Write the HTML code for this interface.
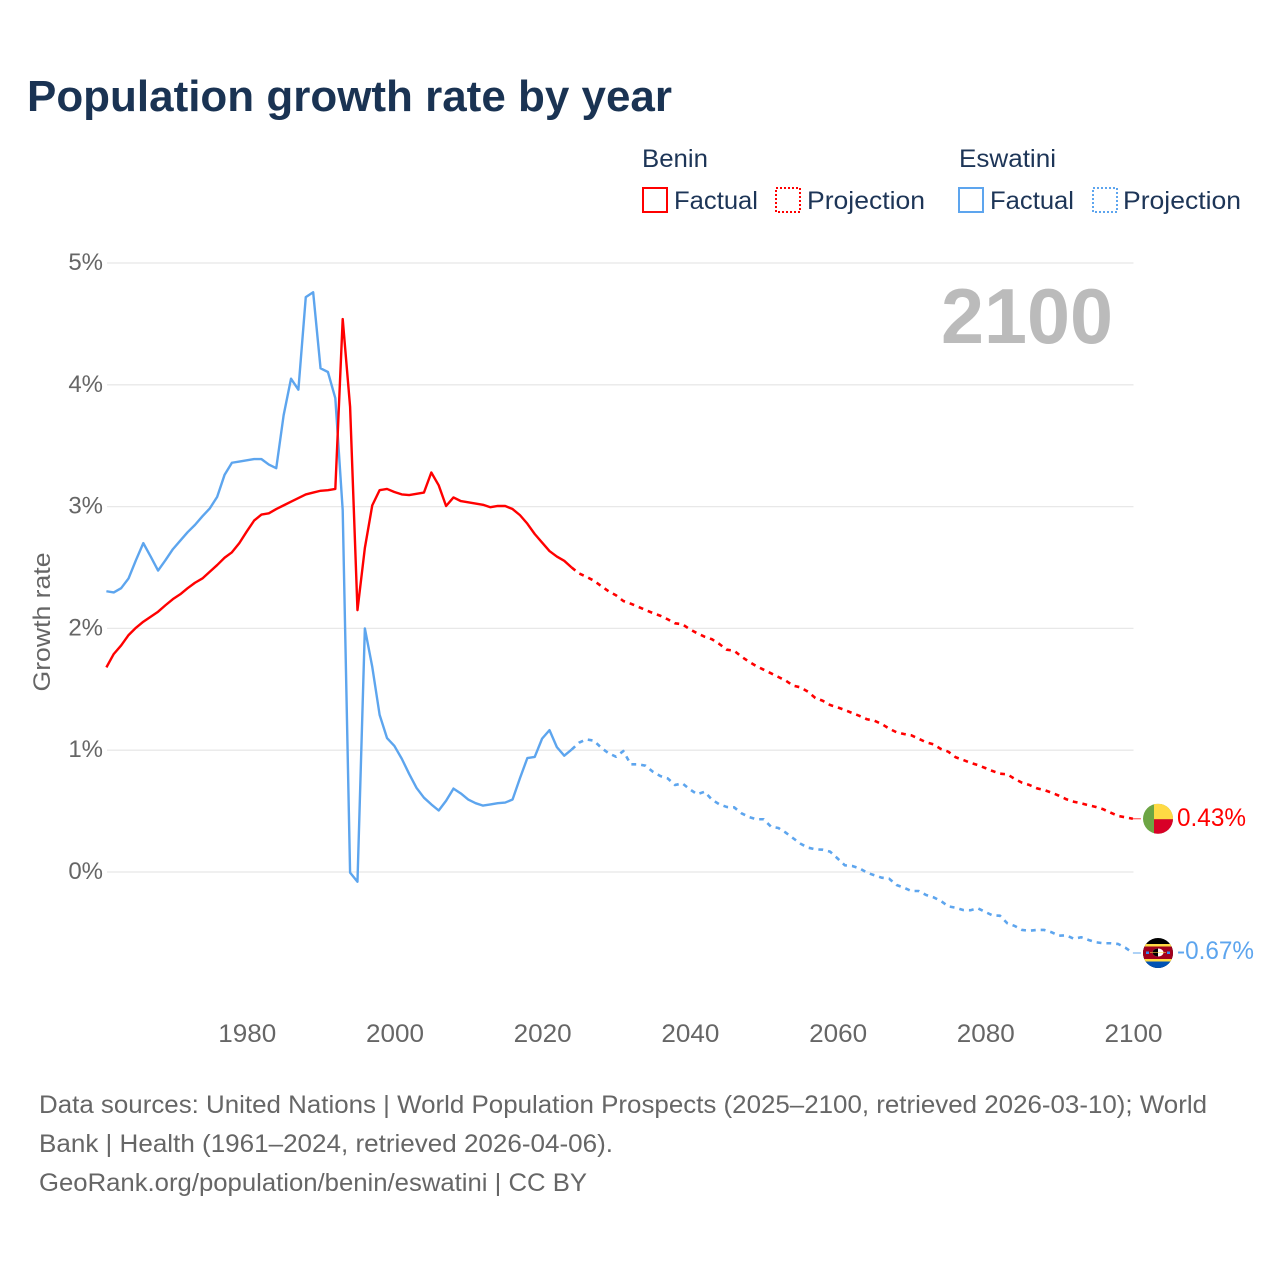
<!DOCTYPE html>
<html lang="en">
<head>
<meta charset="utf-8">
<title>Population growth rate by year</title>
<style>
html,body{margin:0;padding:0;background:#fff;}
svg{display:block;font-family:"Liberation Sans",sans-serif;}
</style>
</head>
<body>
<svg id="chart" width="1280" height="1280" viewBox="0 0 1280 1280" xmlns="http://www.w3.org/2000/svg">
  <text x="27" y="111" font-size="44" font-weight="700" fill="#1a3353" textLength="645" lengthAdjust="spacingAndGlyphs">Population growth rate by year</text>

  <g font-size="25" fill="#1d3557">
    <text x="642" y="167" textLength="66" lengthAdjust="spacingAndGlyphs">Benin</text>
    <rect x="643" y="188" width="24" height="24" fill="none" stroke="#ff0000" stroke-width="2"/>
    <text x="674" y="209" textLength="84" lengthAdjust="spacingAndGlyphs">Factual</text>
    <rect x="776" y="188" width="24" height="24" fill="none" stroke="#ff0000" stroke-width="2" stroke-dasharray="2 2"/>
    <text x="807" y="209" textLength="118" lengthAdjust="spacingAndGlyphs">Projection</text>
    <text x="959" y="167" textLength="97" lengthAdjust="spacingAndGlyphs">Eswatini</text>
    <rect x="959" y="188" width="24" height="24" fill="none" stroke="#5da5ee" stroke-width="2"/>
    <text x="990" y="209" textLength="84" lengthAdjust="spacingAndGlyphs">Factual</text>
    <rect x="1093" y="188" width="24" height="24" fill="none" stroke="#5da5ee" stroke-width="2" stroke-dasharray="2 2"/>
    <text x="1123" y="209" textLength="118" lengthAdjust="spacingAndGlyphs">Projection</text>
  </g>

  <text transform="translate(50,622) rotate(-90)" text-anchor="middle" font-size="24" fill="#666666" textLength="139" lengthAdjust="spacingAndGlyphs">Growth rate</text>

  <g id="grid"></g>
  <g id="yticks" font-size="24" fill="#666666"></g>
  <g id="xticks" font-size="25" fill="#666666"></g>

  <text x="1113" y="343" text-anchor="end" font-size="78" font-weight="700" fill="#bbbbbb" textLength="172" lengthAdjust="spacingAndGlyphs">2100</text>

  <g id="series" fill="none" stroke-width="2.4" stroke-linejoin="round"></g>

  <defs>
    <clipPath id="benin-clip"><circle cx="0" cy="0" r="15"/></clipPath>
    <clipPath id="eswatini-clip"><circle cx="0" cy="0" r="15"/></clipPath>
  </defs>
  <g id="flag-benin" clip-path="url(#benin-clip)">
    <rect x="-15" y="-15" width="30" height="30" fill="#6da544"/>
    <rect x="-4" y="-15" width="19" height="15.500" fill="#ffda44"/>
    <rect x="-4" y="0.500" width="19" height="15" fill="#d80027"/>
  </g>
  <g id="flag-eswatini" clip-path="url(#eswatini-clip)">
    <rect x="-15" y="-15" width="30" height="30" fill="#000000"/>
    <rect x="-15" y="-9" width="30" height="2.500" fill="#ffda44"/>
    <rect x="-15" y="-6.500" width="30" height="12.500" fill="#a2001d"/>
    <rect x="-15" y="6" width="30" height="2.500" fill="#ffda44"/>
    <rect x="-15" y="8.500" width="30" height="7" fill="#0052b4"/>
    <ellipse cx="0" cy="-0.500" rx="5.500" ry="4" fill="#ffffff"/>
    <path d="M0 -4.500 A5.500 4 0 0 0 0 3.500 Z" fill="#000000"/>
    <rect x="-12" y="-1.500" width="3" height="2.500" fill="#338af3"/>
    <rect x="9" y="-1.500" width="3" height="2.500" fill="#338af3"/>
    <rect x="-8" y="-0.800" width="16" height="0.800" fill="#ffda44" opacity="0.700"/>
  </g>
  <g id="endlabels" font-size="25"></g>

  <g font-size="25" fill="#666666">
    <text x="39" y="1113" textLength="1168" lengthAdjust="spacingAndGlyphs">Data sources: United Nations | World Population Prospects (2025–2100, retrieved 2026-03-10); World</text>
    <text x="39" y="1152" textLength="574" lengthAdjust="spacingAndGlyphs">Bank | Health (1961–2024, retrieved 2026-04-06).</text>
    <text x="39" y="1191" textLength="548" lengthAdjust="spacingAndGlyphs">GeoRank.org/population/benin/eswatini | CC BY</text>
  </g>
</svg>
<script>
// Chart data (percent growth per year)
const factualStartYear = 1961;
const projectionStartYear = 2024;
const yTickValues = [0, 1, 2, 3, 4, 5];
const yTickLabels = ['0%', '1%', '2%', '3%', '4%', '5%'];
const xTickYears = [1980, 2000, 2020, 2040, 2060, 2080, 2100];
const endLabels = ['0.43%', '-0.67%'];

const beninFactual = [
  1.68,1.79,1.86,1.945,2.005,2.055,2.096,2.137,2.19,2.24,
  2.28,2.33,2.375,2.41,2.465,2.52,2.58,2.625,2.70,2.795,
  2.885,2.935,2.945,2.98,3.01,3.04,3.07,3.10,3.115,3.13,
  3.135,3.145,4.54,3.82,2.15,2.66,3.01,3.135,3.145,3.12,
  3.10,3.095,3.105,3.115,3.28,3.175,3.005,3.075,3.045,3.035,
  3.025,3.015,2.995,3.005,3.005,2.98,2.93,2.86,2.775,2.705,
  2.635,2.59,2.555,2.50
];
const beninProjection = [
  2.50,2.452,2.424,2.392,2.348,2.305,2.272,2.225,2.203,2.178,2.151,
  2.126,2.104,2.075,2.042,2.034,1.993,1.960,1.932,1.911,1.872,
  1.825,1.817,1.768,1.727,1.691,1.661,1.631,1.601,1.571,1.530,
  1.516,1.480,1.429,1.406,1.371,1.352,1.330,1.305,1.281,1.254,
  1.242,1.215,1.177,1.147,1.133,1.122,1.094,1.065,1.048,1.010,
  0.988,0.942,0.920,0.897,0.878,0.854,0.829,0.807,0.802,0.764,
  0.733,0.714,0.687,0.673,0.651,0.626,0.597,0.577,0.564,0.548,
  0.534,0.515,0.487,0.460,0.449,0.437
];
const eswatiniFactual = [
  2.305,2.295,2.33,2.41,2.56,2.70,2.59,2.475,2.56,2.65,
  2.72,2.79,2.85,2.92,2.985,3.08,3.26,3.36,3.37,3.38,
  3.39,3.39,3.345,3.315,3.75,4.05,3.96,4.72,4.76,4.135,
  4.105,3.89,2.97,-0.005,-0.08,2.0,1.685,1.29,1.10,1.035,
  0.93,0.805,0.69,0.61,0.555,0.505,0.585,0.685,0.645,0.595,
  0.565,0.545,0.555,0.565,0.57,0.595,0.77,0.935,0.945,1.095,
  1.165,1.025,0.955,1.005
];
const eswatiniProjection = [
  1.005,1.062,1.089,1.078,1.021,0.975,0.947,0.993,0.884,0.884,0.873,
  0.823,0.788,0.769,0.714,0.728,0.679,0.638,0.659,0.594,0.556,
  0.534,0.531,0.482,0.452,0.433,0.433,0.372,0.361,0.323,0.277,
  0.232,0.200,0.186,0.183,0.167,0.112,0.055,0.049,0.030,-0.006,
  -0.027,-0.047,-0.055,-0.107,-0.129,-0.156,-0.156,-0.189,-0.208,-0.238,
  -0.282,-0.293,-0.312,-0.314,-0.298,-0.328,-0.356,-0.359,-0.421,-0.443,
  -0.476,-0.482,-0.476,-0.476,-0.495,-0.523,-0.520,-0.548,-0.536,-0.558,
  -0.577,-0.585,-0.585,-0.591,-0.622,-0.665
];

// Axis functions
function xScale(year) { return 394.4 + (year - 2000) * 7.385; }
function yScale(v) { return 872 - v * 121.8; }

const NS = 'http://www.w3.org/2000/svg';
function make(tag, parent, props) {
  const el = document.createElementNS(NS, tag);
  for (const k in props) el.setAttribute(k, props[k]);
  parent.appendChild(el);
  return el;
}
function pathFrom(values, startYear) {
  return values.map(function (v, i) {
    return (i ? 'L' : 'M') + xScale(startYear + i).toFixed(2) + ' ' + yScale(v).toFixed(2);
  }).join(' ');
}

const grid = document.getElementById('grid');
const yticks = document.getElementById('yticks');
yTickValues.forEach(function (v, i) {
  const line = make('line', grid, { x1: 107, x2: 1133.5, y1: yScale(v), y2: yScale(v), stroke: '#e8e8e8', 'stroke-width': 1.3 });
  
  
  const t = make('text', yticks, { x: 103, y: yScale(v) + 7, 'text-anchor': 'end' });
  
  
  t.textContent = yTickLabels[i];
});

const xticks = document.getElementById('xticks');
xTickYears.forEach(function (yr) {
  const t = make('text', xticks, { x: xScale(yr) + 0.6, y: 1042, 'text-anchor': 'middle', textLength: 58, lengthAdjust: 'spacingAndGlyphs' });
  
  
  t.textContent = String(yr);
});

const seriesGroup = document.getElementById('series');
const blue = '#5da5ee';
const red = '#ff0000';

const p1 = make('path', seriesGroup, { d: pathFrom(eswatiniFactual, factualStartYear), stroke: blue });


const p2 = make('path', seriesGroup, { d: pathFrom(eswatiniProjection, projectionStartYear), stroke: blue, 'stroke-dasharray': '4.8 5', 'stroke-width': 2.6 });


const p3 = make('path', seriesGroup, { d: pathFrom(beninFactual, factualStartYear), stroke: red });


const p4 = make('path', seriesGroup, { d: pathFrom(beninProjection, projectionStartYear), stroke: red, 'stroke-dasharray': '4.8 5', 'stroke-width': 2.6 });



// End markers follow the last projected value
const lastBenin = beninProjection[beninProjection.length - 1];
const lastEswatini = eswatiniProjection[eswatiniProjection.length - 1];
const xEnd = xScale(2100);

const c1 = make('line', seriesGroup, { x1: xEnd, x2: xEnd + 8, y1: yScale(lastBenin), y2: yScale(lastBenin), stroke: red, 'stroke-width': 1, opacity: 0.75 });


const c2 = make('line', seriesGroup, { x1: xEnd, x2: xEnd + 8, y1: yScale(lastEswatini), y2: yScale(lastEswatini), stroke: blue, 'stroke-width': 1 });



document.getElementById('flag-benin').setAttribute('transform', 'translate(1158,' + yScale(lastBenin).toFixed(2) + ')');
document.getElementById('flag-eswatini').setAttribute('transform', 'translate(1158,' + yScale(lastEswatini).toFixed(2) + ')');

const endGroup = document.getElementById('endlabels');
const l1 = make('text', endGroup, { x: 1177, y: yScale(lastBenin) + 7, fill: red, textLength: 69, lengthAdjust: 'spacingAndGlyphs' });


l1.textContent = endLabels[0];
const l2 = make('text', endGroup, { x: 1177, y: yScale(lastEswatini) + 6, fill: blue, textLength: 77, lengthAdjust: 'spacingAndGlyphs' });


l2.textContent = endLabels[1];
</script>
</body>
</html>
